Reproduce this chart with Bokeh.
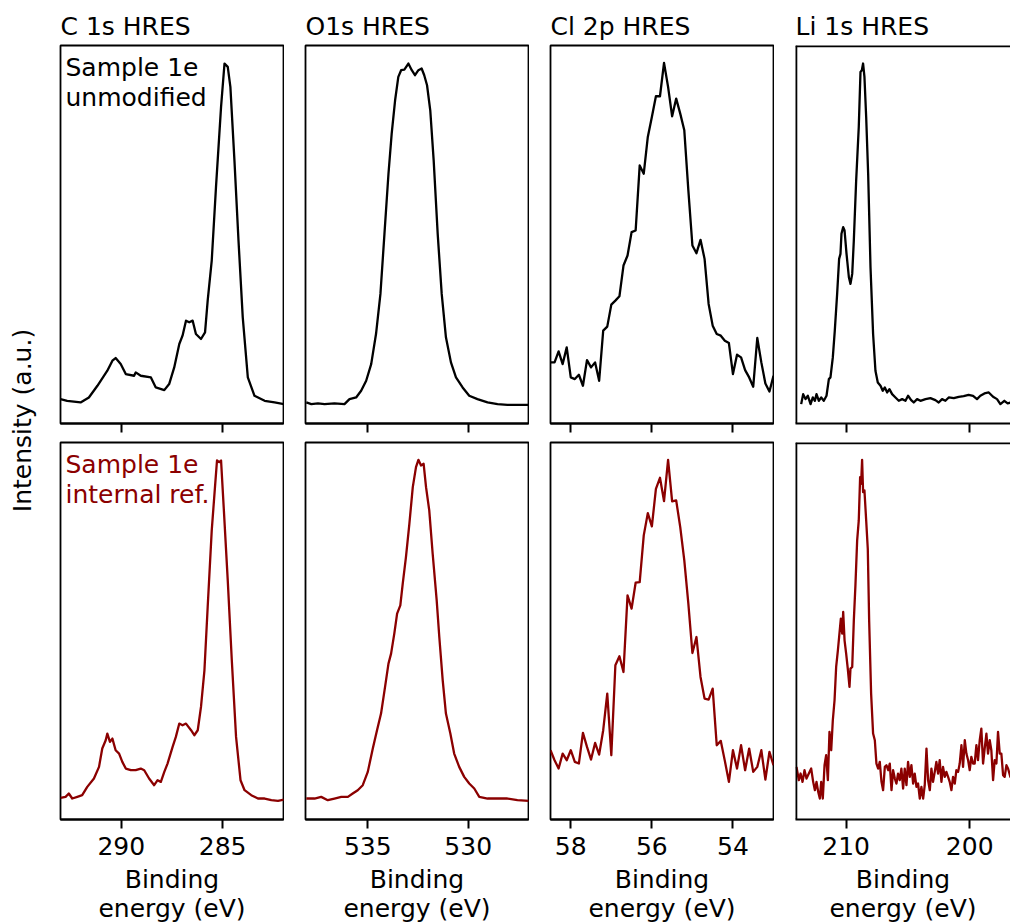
import math

from bokeh.embed import file_html
from bokeh.layouts import column, row
from bokeh.models import FixedTicker, Label, Range1d, Span
from bokeh.plotting import figure
from bokeh.resources import INLINE

# ---------------------------------------------------------------------------
# High-resolution XPS spectra of sample 1e (intensity in arbitrary units)
# ---------------------------------------------------------------------------

# C 1s
c1s_unmod_ev = [293.0, 292.67, 292.01, 291.6, 291.18, 290.69, 290.44, 290.28, 290.03, 289.78,
                289.37, 289.29, 289.04, 288.54, 288.30, 287.88, 287.64, 287.39, 287.14, 286.98,
                286.81, 286.65, 286.48, 286.32, 286.07, 285.87, 285.74, 285.54, 285.33, 285.08,
                284.91, 284.75, 284.62, 284.42, 284.22, 284.01, 283.76, 283.43, 282.93, 282.44,
                281.98]
c1s_unmod_int = [7.3, 6.8, 6.3, 7.8, 11.3, 15.8, 18.8, 19.6, 17.8, 14.8,
                 14.3, 15.3, 14.3, 13.8, 10.8, 10.0, 11.8, 16.8, 23.8, 26.3,
                 30.8, 30.3, 30.8, 26.8, 25.3, 27.3, 36.8, 48.8, 70.8, 94.8,
                 107.8, 106.8, 100.8, 78.8, 54.8, 31.8, 13.8, 8.3, 6.8, 6.3,
                 5.8]
c1s_ref_ev = [293.0, 292.75, 292.59, 292.42, 292.17, 291.93, 291.68, 291.35, 291.10, 290.94,
              290.77, 290.69, 290.56, 290.44, 290.28, 290.11, 289.95, 289.78, 289.53, 289.29,
              289.04, 288.87, 288.63, 288.38, 288.21, 288.05, 287.88, 287.72, 287.47, 287.31,
              287.14, 286.98, 286.81, 286.56, 286.40, 286.23, 286.07, 285.90, 285.74, 285.54,
              285.38, 285.28, 285.17, 285.08, 284.95, 284.75, 284.55, 284.34, 284.12, 283.92,
              283.59, 283.26, 282.93, 282.60, 282.27, 281.98]
c1s_ref_int = [6.5, 6.8, 7.8, 6.3, 6.8, 7.3, 9.8, 12.3, 15.8, 21.3,
               23.8, 25.8, 23.3, 24.3, 20.8, 19.8, 17.3, 15.3, 14.8, 14.8,
               15.3, 14.8, 12.3, 10.3, 11.8, 11.3, 14.3, 16.8, 21.8, 24.8,
               28.8, 28.3, 28.8, 26.8, 25.3, 26.8, 33.8, 44.8, 63.8, 86.8,
               99.8, 107.8, 107.3, 107.8, 93.8, 71.8, 47.8, 24.8, 11.8, 8.8,
               7.3, 6.3, 6.3, 5.8, 5.6, 6.0]

# O 1s
o1s_unmod_ev = [538.06, 537.81, 537.48, 537.15, 536.66, 536.16, 535.91, 535.58, 535.33, 535.08,
                534.83, 534.59, 534.37, 534.17, 533.97, 533.81, 533.64, 533.48, 533.34, 533.18,
                532.98, 532.81, 532.65, 532.48, 532.32, 532.19, 532.05, 531.89, 531.72, 531.52,
                531.32, 531.11, 530.86, 530.61, 530.28, 529.95, 529.54, 529.04, 528.54, 528.05,
                527.55, 526.99]
o1s_unmod_int = [6.3, 5.8, 6.0, 5.8, 6.0, 5.8, 7.3, 7.8, 9.8, 12.8,
                 17.8, 26.8, 38.8, 56.8, 74.8, 86.8, 96.8, 103.8, 105.8, 106.0,
                 107.8, 105.8, 104.3, 105.8, 106.3, 104.3, 101.3, 93.8, 78.8, 56.8,
                 38.8, 25.8, 18.3, 13.8, 10.8, 8.3, 7.3, 6.3, 5.8, 5.6,
                 5.6, 5.6]
o1s_ref_ev = [538.06, 537.65, 537.32, 536.99, 536.66, 536.32, 535.99, 535.75, 535.50, 535.25,
              535.00, 534.75, 534.54, 534.34, 534.14, 533.97, 533.84, 533.68, 533.54, 533.38,
              533.26, 533.10, 532.93, 532.76, 532.60, 532.48, 532.35, 532.22, 532.10, 531.94,
              531.77, 531.57, 531.44, 531.27, 531.11, 530.89, 530.70, 530.45, 530.20, 529.95,
              529.70, 529.45, 529.04, 528.54, 528.05, 527.55, 526.99]
o1s_ref_int = [6.3, 6.3, 6.8, 5.8, 6.3, 6.8, 6.8, 7.8, 8.8, 10.3,
               14.3, 21.3, 26.8, 31.8, 39.8, 46.8, 49.8, 55.8, 61.8, 64.3,
               70.8, 78.8, 88.8, 99.8, 105.8, 108.0, 106.3, 106.8, 99.8, 92.8,
               79.8, 65.8, 54.8, 41.8, 31.8, 25.8, 19.8, 15.8, 12.8, 10.8,
               9.3, 6.8, 6.3, 6.3, 6.3, 5.8, 5.6]

# Cl 2p (0.1 eV steps)
cl2p_ev = [58.5, 58.4, 58.3, 58.2, 58.1, 58.0, 57.9, 57.8, 57.7, 57.6,
           57.5, 57.4, 57.3, 57.2, 57.1, 57.0, 56.9, 56.8, 56.7, 56.6,
           56.5, 56.4, 56.3, 56.2, 56.1, 56.0, 55.9, 55.8, 55.7, 55.6,
           55.5, 55.4, 55.3, 55.2, 55.1, 55.0, 54.9, 54.8, 54.7, 54.6,
           54.5, 54.4, 54.3, 54.2, 54.1, 54.0, 53.9, 53.8, 53.7, 53.6,
           53.5, 53.4, 53.3, 53.2, 53.1, 53.0]
cl2p_unmod_int = [18.3, 18.3, 21.6, 17.8, 22.8, 13.8, 13.3, 14.6, 11.3, 19.0,
                  16.8, 18.3, 12.8, 27.8, 29.0, 35.6, 36.8, 38.1, 47.3, 50.3,
                  57.3, 57.8, 77.3, 74.8, 85.8, 91.8, 98.0, 98.0, 108.0, 100.8,
                  92.0, 97.3, 92.8, 87.8, 69.8, 53.3, 51.0, 55.0, 49.3, 35.8,
                  29.3, 26.8, 26.3, 24.8, 24.1, 14.8, 20.6, 19.8, 16.0, 13.8,
                  11.0, 25.6, 18.3, 12.0, 9.6, 14.3]
cl2p_ref_int = [20.8, 17.8, 15.3, 19.8, 17.8, 20.8, 17.3, 16.8, 26.0, 21.8,
                18.0, 23.0, 19.5, 26.8, 37.8, 19.3, 46.3, 49.0, 44.3, 67.3,
                63.3, 71.1, 71.3, 85.3, 92.0, 88.0, 99.3, 102.6, 95.6, 108.0,
                95.5, 95.8, 87.8, 77.8, 64.8, 50.0, 54.8, 42.8, 36.3, 36.0,
                39.3, 22.3, 23.6, 17.6, 11.3, 20.8, 15.3, 22.3, 14.8, 21.3,
                14.3, 15.8, 20.8, 12.0, 20.3, 16.3]

# Li 1s
li1s_unmod_ev = [213.64, 213.48, 213.29, 213.10, 212.88, 212.70, 212.53, 212.40, 212.21, 212.02,
                 211.81, 211.59, 211.40, 211.27, 211.08, 210.92, 210.73, 210.57, 210.46, 210.38,
                 210.24, 210.13, 209.97, 209.78, 209.65, 209.51, 209.38, 209.19, 208.98, 208.84,
                 208.73, 208.63, 208.52, 208.38, 208.22, 208.03, 207.82, 207.63, 207.44, 207.22,
                 207.04, 206.87, 206.68, 206.50, 206.28, 206.01, 205.74, 205.47, 205.20, 204.99,
                 204.74, 204.53, 204.26, 203.99, 203.58, 203.18, 202.78, 202.51, 202.24, 201.97,
                 201.70, 201.29, 200.89, 200.49, 200.09, 199.73, 199.41, 199.14, 198.81, 198.46,
                 198.11, 197.79, 197.52, 197.20, 196.93, 196.66, 196.31, 196.06]
li1s_unmod_int = [5.8, 8.8, 7.3, 8.3, 5.8, 7.8, 6.8, 8.8, 6.8, 7.8,
                  6.8, 8.3, 13.3, 13.8, 19.8, 27.8, 38.8, 49.3, 50.8, 56.8,
                  58.8, 57.8, 50.8, 43.8, 41.8, 44.8, 54.8, 72.8, 88.8, 105.3,
                  105.8, 107.8, 103.8, 91.8, 74.8, 46.8, 26.8, 15.8, 12.3, 11.3,
                  9.8, 10.8, 9.3, 10.3, 8.8, 7.8, 6.8, 7.3, 6.8, 8.3,
                  7.0, 6.3, 7.3, 6.8, 7.3, 7.6, 7.0, 6.3, 7.3, 6.8,
                  7.8, 7.6, 8.0, 8.2, 8.6, 8.3, 7.3, 8.3, 9.0, 9.3,
                  8.0, 7.3, 5.8, 6.8, 6.0, 6.3, 6.0, 6.1]
li1s_ref_ev = [214.02, 213.83, 213.69, 213.53, 213.37, 213.21, 213.02, 212.83, 212.67, 212.53,
               212.40, 212.26, 212.13, 212.02, 211.89, 211.75, 211.62, 211.48, 211.35, 211.21,
               211.08, 210.94, 210.81, 210.67, 210.57, 210.43, 210.32, 210.24, 210.13, 210.00,
               209.87, 209.73, 209.65, 209.51, 209.38, 209.25, 209.11, 208.98, 208.87, 208.79,
               208.71, 208.63, 208.52, 208.38, 208.25, 208.14, 207.98, 207.82, 207.68, 207.55,
               207.41, 207.28, 207.14, 207.01, 206.87, 206.74, 206.60, 206.47, 206.33, 206.20,
               206.06, 205.93, 205.80, 205.66, 205.53, 205.39, 205.26, 205.12, 204.99, 204.85,
               204.72, 204.58, 204.45, 204.31, 204.18, 204.04, 203.91, 203.77, 203.64, 203.50,
               203.37, 203.23, 203.10, 202.97, 202.83, 202.70, 202.56, 202.43, 202.29, 202.16,
               202.02, 201.89, 201.75, 201.62, 201.48, 201.35, 201.21, 201.08, 200.94, 200.81,
               200.67, 200.54, 200.40, 200.27, 200.13, 200.00, 199.87, 199.73, 199.60, 199.46,
               199.33, 199.19, 199.06, 198.92, 198.79, 198.65, 198.52, 198.38, 198.25, 198.11,
               197.98, 197.84, 197.71, 197.57, 197.44, 197.30, 197.17, 197.03, 196.90, 196.71,
               196.44, 196.17]
li1s_ref_int = [15.8, 11.8, 13.8, 11.3, 14.8, 12.3, 13.8, 15.3, 11.3, 8.8,
                11.3, 8.3, 6.3, 11.3, 6.3, 16.3, 19.3, 11.8, 26.3, 20.8,
                29.8, 35.8, 45.8, 50.8, 54.8, 60.3, 55.8, 62.3, 53.8, 49.8,
                45.3, 39.8, 45.3, 45.8, 59.8, 70.3, 83.8, 89.8, 102.8, 100.8,
                108.0, 98.3, 98.8, 89.8, 81.3, 59.8, 37.8, 25.8, 23.8, 16.8,
                15.3, 17.3, 11.3, 8.8, 15.8, 16.3, 14.8, 16.8, 8.8, 14.8,
                12.3, 10.8, 13.8, 11.8, 15.3, 9.3, 15.3, 10.3, 17.3, 12.8,
                16.3, 10.8, 13.8, 9.8, 10.8, 6.3, 9.8, 6.3, 10.3, 21.3,
                11.8, 8.8, 15.3, 11.3, 14.3, 17.3, 13.8, 17.8, 11.3, 15.8,
                12.8, 14.3, 12.8, 11.3, 8.8, 12.8, 10.8, 14.8, 14.3, 16.8,
                22.3, 15.8, 23.8, 19.8, 17.8, 14.8, 18.8, 16.8, 16.8, 22.3,
                17.8, 23.8, 27.3, 16.8, 21.3, 25.8, 19.8, 23.8, 20.8, 11.8,
                17.8, 16.8, 26.3, 19.8, 19.8, 13.3, 12.8, 16.3, 15.3, 12.8,
                14.8, 13.8]

# Panel set-up
titles = ["C 1s HRES", "O1s HRES", "Cl 2p HRES", "Li 1s HRES"]
energy_limits = [(293.0, 282.0), (538.1, 527.0), (58.5, 53.0), (214.1, 196.7)]
energy_ticks = [[290, 285], [535, 530], [58, 56, 54], [210, 200]]
intensity_limits = (0.0, 113.2)

unmodified = [(c1s_unmod_ev, c1s_unmod_int), (o1s_unmod_ev, o1s_unmod_int),
              (cl2p_ev, cl2p_unmod_int), (li1s_unmod_ev, li1s_unmod_int)]
internal_ref = [(c1s_ref_ev, c1s_ref_int), (o1s_ref_ev, o1s_ref_int),
                (cl2p_ev, cl2p_ref_int), (li1s_ref_ev, li1s_ref_int)]

sample_labels = ["Sample 1e\nunmodified", "Sample 1e\ninternal ref."]
row_colors = ["black", "#8b0000"]

FONT = "DejaVu Sans"
FS = "25px"
FRAME_LW = 1.8
LINE_W = 2.3


def make_panel(col, top):
    last = col == 3
    fh = 378 if top else 377
    p = figure(
        frame_width=215 if last else 223,
        frame_height=fh,
        x_range=Range1d(*energy_limits[col]),
        y_range=Range1d(*intensity_limits),
        y_axis_location=None,
        output_backend="svg",
        toolbar_location=None,
        min_border_left=20 if col == 0 else 21,
        min_border_right=0 if last else 1,
        min_border_top=45 if top else 5,
        min_border_bottom=14 if top else 105,
        background_fill_color="white",
        border_fill_color="white",
        title=titles[col] if top else None,
    )
    p.grid.visible = False

    if top:
        p.title.text_font = FONT
        p.title.text_font_size = FS
        p.title.text_font_style = "normal"
        p.title.text_color = "black"
        p.title.align = "left"
        p.title.offset = 0
        p.title.standoff = 10

    if last:
        # right edge of this panel runs off the page: draw only left/top/bottom edges
        p.outline_line_color = None
        p.add_layout(Span(location=energy_limits[col][0], dimension="height",
                          line_color="black", line_width=2 * FRAME_LW))
        p.add_layout(Span(location=intensity_limits[1], dimension="width",
                          line_color="black", line_width=2 * FRAME_LW))
    else:
        p.outline_line_color = "black"
        p.outline_line_width = FRAME_LW
        p.outline_line_alpha = 1.0

    ax = p.xaxis[0]
    ax.ticker = FixedTicker(ticks=energy_ticks[col])
    ax.minor_tick_line_color = None
    ax.major_tick_in = 0
    ax.major_tick_out = 9
    ax.major_tick_line_width = 2
    ax.major_tick_line_color = "black"
    ax.axis_line_color = "black"
    ax.axis_line_width = FRAME_LW
    if top:
        # shared energy axis: ticks only, labels on the lower row
        ax.major_label_overrides = {t: "" for t in energy_ticks[col]}
        ax.major_label_text_font_size = "1px"
        ax.major_label_standoff = 0
    else:
        ax.major_label_text_font = FONT
        ax.major_label_text_font_size = FS
        ax.major_label_text_color = "black"
        ax.major_label_standoff = 8
        ax.axis_label = "Binding\nenergy (eV)"
        ax.axis_label_text_font = FONT
        ax.axis_label_text_font_size = FS
        ax.axis_label_text_font_style = "normal"
        ax.axis_label_text_color = "black"
        ax.axis_label_standoff = 7
        ax.axis_label_text_line_height = 1.0

    ev, inten = (unmodified if top else internal_ref)[col]
    color = row_colors[0 if top else 1]
    p.line(ev, inten, line_color=color, line_width=LINE_W, line_join="round")

    if col == 0:
        p.add_layout(Label(
            x=5, y=fh - 7, x_units="screen", y_units="screen",
            text=sample_labels[0 if top else 1],
            text_font=FONT, text_font_size=FS, text_color=color,
            text_align="left", text_baseline="top", text_line_height=1.05,
        ))
    return p


top_panels = [make_panel(c, True) for c in range(4)]
bottom_panels = [make_panel(c, False) for c in range(4)]

# Shared intensity label spanning both rows
ylab = figure(width=40, height=924, output_backend="svg", toolbar_location=None,
              x_axis_location=None, y_axis_location=None, min_border=0,
              x_range=Range1d(0, 1), y_range=Range1d(0, 1),
              outline_line_color=None, background_fill_color="white",
              border_fill_color="white")
ylab.grid.visible = False
ylab.add_layout(Label(x=21.5, y=924 - 420, x_units="screen", y_units="screen",
                      text="Intensity (a.u.)", angle=math.pi / 2,
                      text_font=FONT, text_font_size=FS, text_color="black",
                      text_align="center", text_baseline="middle"))

layout = row(ylab, column(row(*top_panels), row(*bottom_panels)))

with open("out.html", "w") as fh:
    fh.write(file_html(layout, INLINE, title="XPS HRES spectra"))
